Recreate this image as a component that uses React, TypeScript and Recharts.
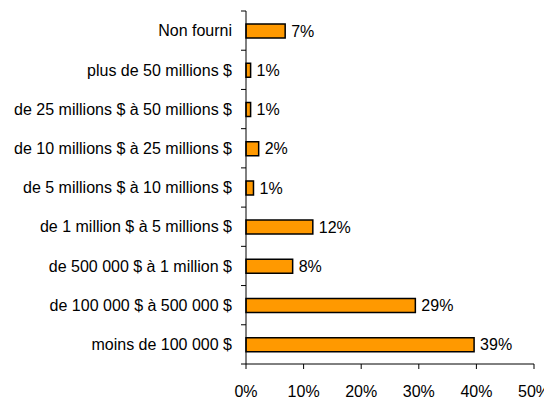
import React from "react";
import { BarChart, Bar, XAxis, YAxis, LabelList } from "recharts";

const categories = [
  "Non fourni",
  "plus de 50 millions $",
  "de 25 millions $ à 50 millions $",
  "de 10 millions $ à 25 millions $",
  "de 5 millions $ à 10 millions $",
  "de 1 million $ à 5 millions $",
  "de 500 000 $ à 1 million $",
  "de 100 000 $ à 500 000 $",
  "moins de 100 000 $",
];
const values = [6.8, 0.8, 0.8, 2.2, 1.3, 11.6, 8.1, 29.4, 39.6];
const valueLabels = ["7%", "1%", "1%", "2%", "1%", "12%", "8%", "29%", "39%"];
const xTicks = [0, 10, 20, 30, 40, 50];

const data = categories.map((c, i) => ({ name: c, value: values[i], label: valueLabels[i] }));

const FONT = "'Liberation Sans', Arial, sans-serif";
const FS = 16;
const GAP = 14;

const YTick = (props: any) => {
  const { x, y, payload, index } = props;
  const half = payload && payload.offset != null ? payload.offset : 19.6;
  const ax = x + GAP;
  return (
    <g>
      <text x={x} y={y} dy="0.355em" textAnchor="end" fontSize={FS} fill="#000" fontFamily={FONT}>
        {payload.value}
      </text>
      <line x1={ax - 5} x2={ax} y1={y + half} y2={y + half} stroke="#000" strokeWidth={1} />
      {index === 0 && (
        <line x1={ax - 5} x2={ax} y1={y - half} y2={y - half} stroke="#000" strokeWidth={1} />
      )}
    </g>
  );
};

export default function App() {
  return (
    <BarChart
      width={544}
      height={392}
      data={data}
      layout="vertical"
      margin={{ top: 3, right: 18, bottom: 0, left: 0 }}
      barSize={14}
    >
      <XAxis
        type="number"
        domain={[0, 50]}
        ticks={xTicks}
        tickFormatter={(v: number) => `${v}%`}
        axisLine={{ stroke: "#000" }}
        tickLine={{ stroke: "#000" }}
        tickSize={5}
        tickMargin={17}
        height={36}
        tick={{ fontSize: FS, fill: "#000", fontFamily: FONT }}
        interval={0}
      />
      <YAxis
        type="category"
        dataKey="name"
        width={238}
        axisLine={{ stroke: "#000" }}
        tickLine={false}
        tickSize={0}
        tickMargin={GAP}
        tick={<YTick />}
        interval={0}
      />
      <Bar dataKey="value" fill="#FF9900" stroke="#000" strokeWidth={1.5} isAnimationActive={false}>
        <LabelList
          dataKey="label"
          position="right"
          offset={6}
          style={{ fontSize: FS, fill: "#000", fontFamily: FONT }}
        />
      </Bar>
    </BarChart>
  );
}
